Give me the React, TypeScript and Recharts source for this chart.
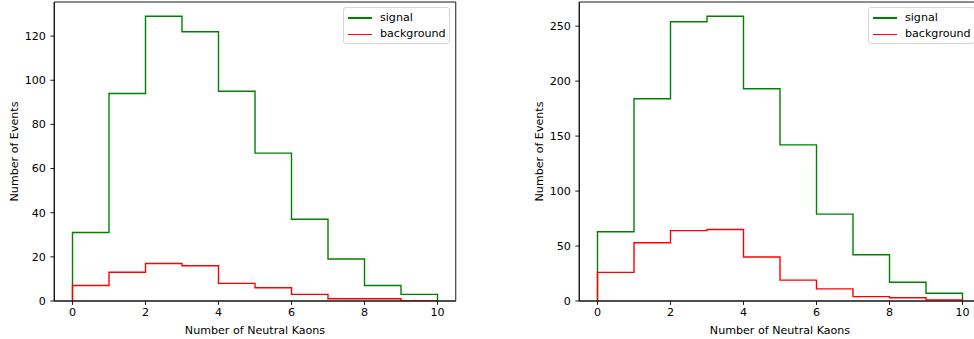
import React from 'react';
import { LineChart, Line, XAxis, YAxis, Legend, ReferenceArea } from 'recharts';

const binEdges = [0, 1, 2, 3, 4, 5, 6, 7, 8, 9, 10];
const xTicks = [0, 2, 4, 6, 8, 10];
const leftSignal = [31, 94, 129, 122, 95, 67, 37, 19, 7, 3];
const leftBackground = [7, 13, 17, 16, 8, 6, 3, 1, 1, 0];
const rightSignal = [63, 184, 254, 259, 193, 142, 79, 42, 17, 7];
const rightBackground = [26, 53, 64, 65, 40, 19, 11, 4, 3, 1];
const leftYTicks = [0, 20, 40, 60, 80, 100, 120];
const rightYTicks = [0, 50, 100, 150, 200, 250];
const seriesNames = ['signal', 'background'];
const xLabel = 'Number of Neutral Kaons';
const yLabel = 'Number of Events';

const FONT = '"DejaVu Sans", sans-serif';
const FS = 11.1;

function stepData(counts: number[]) {
  const pts: { x: number; y: number }[] = [{ x: binEdges[0], y: 0 }];
  counts.forEach((c, i) => pts.push({ x: binEdges[i], y: c }));
  pts.push({ x: binEdges[binEdges.length - 1], y: counts[counts.length - 1] });
  pts.push({ x: binEdges[binEdges.length - 1], y: 0 });
  return pts;
}

const LegendContent = (props: any) => {
  const payload = [...(props.payload || [])].sort(
    (a: any, b: any) => seriesNames.indexOf(a.value) - seriesNames.indexOf(b.value)
  );
  return (
    <div
      style={{
        width: 107,
        height: 37,
        boxSizing: 'border-box',
        border: '1px solid #d6d6d6',
        borderRadius: 3,
        background: 'rgba(255,255,255,0.8)',
        fontFamily: FONT,
        fontSize: FS,
        color: '#000',
        position: 'relative',
      }}
    >
      {payload.map((p: any, i: number) => (
        <div
          key={i}
          style={{
            position: 'absolute',
            left: 0,
            top: 2 + i * 16.3,
            height: 16,
            display: 'flex',
            alignItems: 'center',
            whiteSpace: 'nowrap',
          }}
        >
          <div style={{ marginLeft: 4, width: 24, height: 1.6, background: p.color }} />
          <span style={{ marginLeft: 8, lineHeight: '16px' }}>{p.value}</span>
        </div>
      ))}
    </div>
  );
};

const YLabel = (props: any) => {
  const vb = props.viewBox || { x: 0, y: 0, width: 0, height: 0 };
  const cx = vb.x + 14;
  const cy = vb.y + vb.height / 2;
  return (
    <text
      x={cx}
      y={cy}
      transform={`rotate(-90, ${cx}, ${cy})`}
      textAnchor="middle"
      dominantBaseline="central"
      fontFamily={FONT}
      fontSize={FS}
      fill="#000"
    >
      {yLabel}
    </text>
  );
};

const Panel = ({ signal, background, yTicks }: { signal: number[]; background: number[]; yTicks: number[] }) => {
  const yMax = Math.max(...signal) * 1.05;
  const tick = { fontFamily: FONT, fontSize: FS, fill: '#000' };
  return (
    <LineChart width={480} height={339} margin={{ top: 2, right: 24.25, left: 0, bottom: 0 }}>
      <ReferenceArea
        x1={-0.5}
        x2={10.5}
        y1={0}
        y2={yMax}
        fill="none"
        stroke="#000"
        strokeWidth={0.9}
        ifOverflow="visible"
      />
      <XAxis
        dataKey="x"
        type="number"
        domain={[-0.5, 10.5]}
        ticks={xTicks}
        allowDataOverflow
        height={38}
        tickSize={3.9}
        tickMargin={3.5}
        tick={tick}
        tickLine={{ stroke: '#000', strokeWidth: 0.9 }}
        axisLine={{ stroke: '#000', strokeWidth: 0.9 }}
        label={{ value: xLabel, position: 'insideBottom', offset: 5, fontFamily: FONT, fontSize: FS, fill: '#000' }}
      />
      <YAxis
        type="number"
        domain={[0, yMax]}
        ticks={yTicks}
        allowDataOverflow
        width={54.25}
        tickSize={3.9}
        tickMargin={4.5}
        tick={tick}
        tickLine={{ stroke: '#000', strokeWidth: 0.9 }}
        axisLine={{ stroke: '#000', strokeWidth: 0.9 }}
        label={<YLabel />}
      />
      <Line
        data={stepData(signal)}
        dataKey="y"
        name={seriesNames[0]}
        type="stepAfter"
        stroke="#008000"
        strokeWidth={1.4}
        dot={false}
        activeDot={false}
        isAnimationActive={false}
      />
      <Line
        data={stepData(background)}
        dataKey="y"
        name={seriesNames[1]}
        type="stepAfter"
        stroke="#ff0000"
        strokeWidth={1.4}
        dot={false}
        activeDot={false}
        isAnimationActive={false}
      />
      <Legend
        layout="horizontal"
        verticalAlign="middle"
        align="center"
        content={<LegendContent />}
        wrapperStyle={{ left: 343, top: 7, width: 107, height: 37 }}
      />
    </LineChart>
  );
};

export default function App() {
  return (
    <div
      style={{
        position: 'absolute',
        left: 0,
        top: 0,
        width: 974,
        height: 339,
        overflow: 'hidden',
        background: '#fff',
      }}
    >
      <div style={{ position: 'absolute', left: 0, top: 0 }}>
        <Panel signal={leftSignal} background={leftBackground} yTicks={leftYTicks} />
      </div>
      <div style={{ position: 'absolute', left: 525, top: 0 }}>
        <Panel signal={rightSignal} background={rightBackground} yTicks={rightYTicks} />
      </div>
    </div>
  );
}
